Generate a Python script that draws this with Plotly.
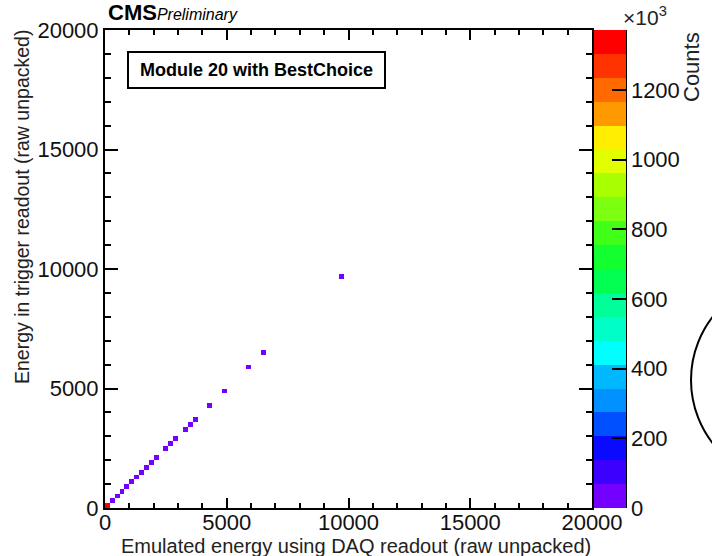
import plotly.graph_objects as go

# Filled bins of the 2D histogram (bin width 200 in both axes)
emulated_energy = [100, 300, 500, 700, 900, 1100, 1300, 1500, 1700, 1900, 2100,
                   2500, 2700, 2900, 3300, 3500, 3700, 4300, 4900, 5900, 6500, 9700]
trigger_energy = [100, 300, 500, 700, 900, 1100, 1300, 1500, 1700, 1900, 2100,
                  2500, 2700, 2900, 3300, 3500, 3700, 4300, 4900, 5900, 6500, 9700]
counts = [1372000, 5200, 3900, 3100, 2600, 2200, 1900, 1600, 1400, 1200, 1000,
          800, 700, 600, 450, 400, 350, 250, 180, 90, 60, 20]

# Axis ticks
axis_ticks = [0, 5000, 10000, 15000, 20000]
axis_labels = ["0", "5000", "10000", "15000", "20000"]

# Colour bar
cbar_ticks = [0, 200000, 400000, 600000, 800000, 1000000, 1200000]
cbar_labels = ["0", "200", "400", "600", "800", "1000", "1200"]

# Discrete rainbow palette, lowest band first
palette = ["#7400ff", "#3c00ff", "#0a0aff", "#0050ff", "#0090ff", "#00b8ff",
           "#00ffff", "#00ffc8", "#00ff99", "#00ff50", "#12ff30", "#40ff18",
           "#7cff10", "#a8ff00", "#e2ff00", "#ffee00", "#ff9900", "#ff6a00",
           "#ff3300", "#ff0000"]

BIN = 200
NBINS = 100
FONT = "Liberation Sans"

# Histogram grid; empty bins stay blank
grid = [[None] * NBINS for _ in range(NBINS)]
for xv, yv, c in zip(emulated_energy, trigger_energy, counts):
    grid[int(yv // BIN)][int(xv // BIN)] = c

n = len(palette)
colorscale = []
for i, col in enumerate(palette):
    colorscale.append([i / n, col])
    colorscale.append([(i + 1) / n, col])

fig = go.Figure()
fig.add_trace(go.Heatmap(
    z=grid, x0=BIN / 2, dx=BIN, y0=BIN / 2, dy=BIN,
    zmin=0, zmax=max(counts), colorscale=colorscale, hoverongaps=False,
    colorbar=dict(
        x=(594 - 105) / 487, xanchor="left", xpad=0, ypad=0,
        y=0.5, yanchor="middle", len=1, lenmode="fraction",
        thickness=32, outlinewidth=0,
        tickvals=cbar_ticks, ticktext=cbar_labels,
        ticks="inside", ticklen=14, tickwidth=2, tickcolor="black",
        tickfont=dict(family=FONT, size=22, color="#111"),
    ),
))

axis_common = dict(
    showgrid=False, zeroline=False, showline=True, linewidth=2,
    linecolor="black", mirror="ticks", ticks="inside", tickwidth=2,
    tickcolor="black", tickfont=dict(family=FONT, size=22, color="#111"),
    range=[0, 20000], tickvals=axis_ticks, ticktext=axis_labels,
)

fig.update_xaxes(ticklen=10, ticklabelstandoff=-6,
                 minor=dict(dtick=1000, ticklen=5, tickwidth=2, ticks="inside",
                            tickcolor="black"),
                 **axis_common)
fig.update_yaxes(ticklen=13,
                 minor=dict(dtick=1000, ticklen=6, tickwidth=2, ticks="inside",
                            tickcolor="black"),
                 **axis_common)

def px(x):
    return (x - 105) / 487

def py(y):
    return (508 - y) / 478

annotations = [
    dict(text="Emulated energy using DAQ readout (raw unpacked)",
         x=px(593), y=py(546), xanchor="right", yanchor="middle",
         font=dict(family=FONT, size=20, color="#222")),
    dict(text="Energy in trigger readout (raw unpacked)", textangle=-90,
         x=px(22), y=py(28), xanchor="center", yanchor="top",
         font=dict(family=FONT, size=19.5, color="#222")),
    dict(text="<b>CMS</b><i><span style='font-size:16px'>Preliminary</span></i>",
         x=px(106), y=py(27), xanchor="left", yanchor="bottom",
         font=dict(family=FONT, size=22, color="black")),
    dict(text="<b>Module 20 with BestChoice</b>",
         x=px(256.5), y=py(70), xanchor="center", yanchor="middle",
         font=dict(family=FONT, size=18, color="black")),
    dict(text="×10<sup>3</sup>", x=px(645), y=py(16),
         xanchor="center", yanchor="middle",
         font=dict(family=FONT, size=21, color="#222")),
    dict(text="Counts", textangle=-90, x=px(692), y=py(67),
         xanchor="center", yanchor="middle",
         font=dict(family=FONT, size=22, color="#222")),
]
for a in annotations:
    a.update(xref="paper", yref="paper", showarrow=False)

shapes = [
    # label box
    dict(type="rect", xref="paper", yref="paper",
         x0=px(128), x1=px(385), y0=py(88), y1=py(52),
         line=dict(color="black", width=2), fillcolor="rgba(0,0,0,0)"),
    # colour bar axis line
    dict(type="line", xref="paper", yref="paper",
         x0=px(626), x1=px(626), y0=0, y1=1,
         line=dict(color="black", width=2)),
    # circle outline at the right edge
    dict(type="circle", xref="paper", yref="paper",
         x0=px(691), x1=px(897), y0=py(483), y1=py(277),
         line=dict(color="black", width=2)),
]

fig.update_layout(
    width=712, height=556,
    margin=dict(l=105, r=120, t=30, b=48, pad=0),
    paper_bgcolor="white", plot_bgcolor="white",
    annotations=annotations, shapes=shapes,
    showlegend=False,
)

fig.write_html("out.html")
